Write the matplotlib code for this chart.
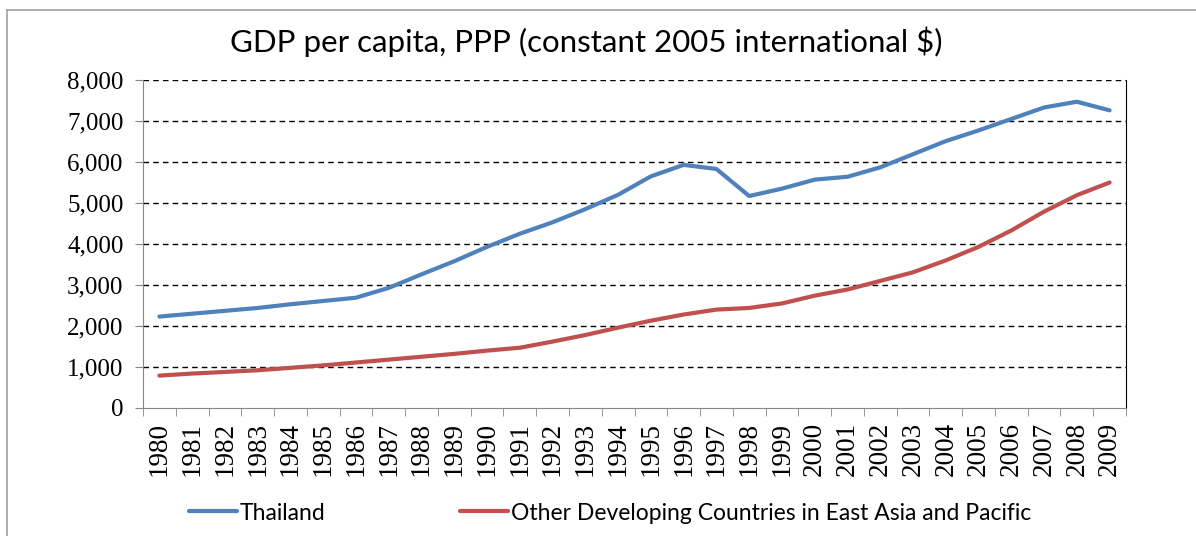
import matplotlib.pyplot as plt
from matplotlib.lines import Line2D
import numpy as np

years = [str(y) for y in range(1980, 2010)]
thailand = [2230, 2300, 2370, 2440, 2530, 2610, 2690, 2930, 3260, 3580,
            3930, 4250, 4530, 4850, 5200, 5650, 5930, 5830, 5170, 5350,
            5570, 5640, 5870, 6190, 6510, 6770, 7050, 7330, 7470, 7260]
other_eap = [790, 840, 880, 920, 980, 1040, 1110, 1180, 1250, 1320,
             1400, 1470, 1620, 1780, 1960, 2130, 2280, 2400, 2440, 2550,
             2740, 2890, 3100, 3310, 3600, 3930, 4330, 4790, 5190, 5500]
y_ticks = [0, 1000, 2000, 3000, 4000, 5000, 6000, 7000, 8000]

fig = plt.figure(figsize=(11.96, 5.36), dpi=100)
ax = fig.add_axes([143 / 1196, 1 - 408 / 536, (1126 - 143) / 1196, (408 - 80) / 536])

x = np.arange(len(years))
ax.plot(x, thailand, color='#4F81BD', linewidth=3, label='Thailand', solid_capstyle='round')
ax.plot(x, other_eap, color='#C0504D', linewidth=3,
        label='Other Developing Countries in East Asia and Pacific', solid_capstyle='round')

ax.set_xlim(-0.5, len(years) - 0.5)
ax.set_ylim(0, 8000)
ax.set_yticks(y_ticks)
ax.set_yticklabels([f'{v:,}' for v in y_ticks], family='Liberation Serif', fontsize=18)
ax.set_xticks(x)
ax.set_xticklabels(years, rotation=90, family='Liberation Serif', fontsize=19.5)
ax.set_xticks(np.arange(-0.5, len(years)), minor=True)
ax.tick_params(axis='x', which='major', length=0, pad=10)
ax.tick_params(axis='x', which='minor', length=6, color='#868686')
ax.tick_params(axis='y', length=6, color='#868686', pad=8)

for v in y_ticks[1:]:
    ax.axhline(v, color='black', linestyle=(0, (4, 3)), linewidth=1, zorder=0)

ax.spines['top'].set_visible(False)
ax.spines['left'].set_color('#868686')
ax.spines['bottom'].set_color('#868686')
ax.spines['right'].set_color('black')

fig.suptitle('GDP per capita, PPP (constant 2005 international $)',
             family='Lato', fontsize=22.5, x=586 / 1196, y=1 - 42 / 536, va='center')

fig.legend(loc='center', bbox_to_anchor=(610 / 1196, 1 - 513 / 536), ncol=2,
           frameon=False, prop={'family': 'Lato', 'size': 16.5},
           handlelength=2.1, handletextpad=0.1, columnspacing=5.9)

# outer chart border
fig.add_artist(Line2D([7 / 1196, 7 / 1196], [0, 1 - 10 / 536], color='#A0A0A0', linewidth=1.2))
fig.add_artist(Line2D([7 / 1196, 1], [1 - 10 / 536, 1 - 10 / 536], color='#A0A0A0', linewidth=1.2))

fig.savefig('out.png', dpi=100)
